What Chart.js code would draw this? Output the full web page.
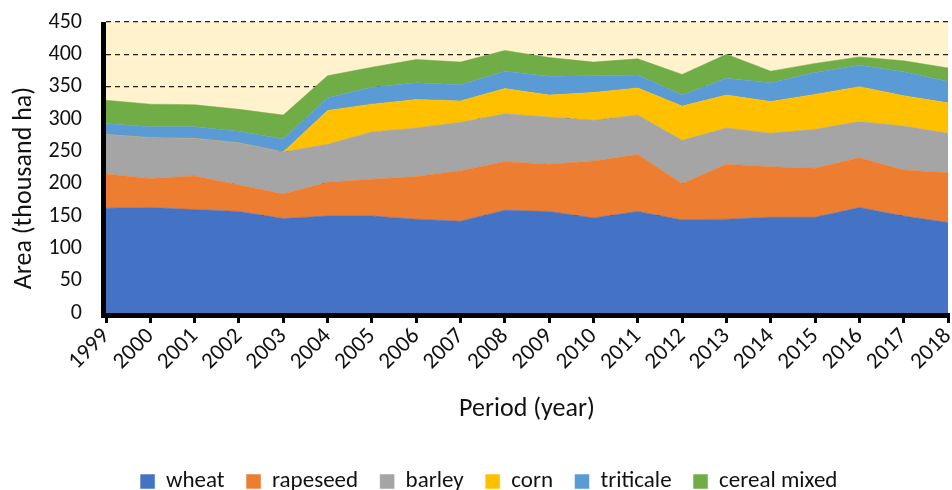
<!DOCTYPE html>
<html>
<head>
<meta charset="utf-8">
<script src="https://cdn.jsdelivr.net/npm/chart.js@4.4.0/dist/chart.umd.min.js"></script>
<style>
  html, body { margin: 0; padding: 0; background: #fff; }
  #caja { width: 952px; height: 490px; }
</style>
</head>
<body>
<div id="caja"><canvas id="canvas" width="952" height="490"></canvas></div>
<script>
// Datos (miles de ha), área apilada
var anios = ['1999','2000','2001','2002','2003','2004','2005','2006','2007','2008',
             '2009','2010','2011','2012','2013','2014','2015','2016','2017','2018'];
var wheat    = [162,163,160,157,146,150,150,145,142,159,157,147,157,144,145,148,148,163,150,140];
var rapeseed = [ 53, 45, 52, 41, 38, 52, 57, 66, 78, 75, 73, 88, 88, 56, 85, 78, 76, 77, 71, 77];
var barley   = [ 61, 63, 58, 65, 65, 59, 73, 75, 75, 74, 73, 63, 61, 67, 56, 52, 60, 56, 68, 61];
var corn     = [  0,  0,  0,  0,  0, 52, 43, 44, 33, 39, 34, 43, 42, 53, 51, 49, 54, 54, 47, 47];
var triticale= [ 17, 17, 18, 18, 20, 20, 26, 26, 25, 27, 29, 26, 20, 17, 26, 29, 34, 33, 37, 33];
var cereal   = [ 36, 35, 34, 34, 37, 34, 31, 36, 35, 32, 29, 21, 25, 32, 37, 18, 14, 13, 17, 21];
var yTicks   = [0,50,100,150,200,250,300,350,400,450];

var fuente = "Carlito, Calibri, Lato, sans-serif";

function serie(nombre, datos, color, relleno) {
  return {
    label: nombre,
    data: datos,
    backgroundColor: color,
    borderColor: color,
    borderWidth: 0.5,
    pointRadius: 0,
    tension: 0,
    fill: relleno
  };
}

// fondo crema del área de trazado y ejes negros gruesos encima de las áreas
var fondo = {
  id: 'fondo',
  beforeDraw: function(chart) {
    var a = chart.chartArea;
    var ctx = chart.ctx;
    ctx.save();
    ctx.fillStyle = '#FFF2CC';
    ctx.fillRect(a.left, a.top, a.right - a.left, a.bottom - a.top);
    ctx.restore();
  },
  afterDatasetsDraw: function(chart) {
    var a = chart.chartArea;
    var ctx = chart.ctx;
    ctx.save();
    ctx.strokeStyle = '#000';
    ctx.lineWidth = 5;
    ctx.setLineDash([]);
    ctx.beginPath();
    ctx.moveTo(a.left - 2.5, a.top);
    ctx.lineTo(a.left - 2.5, a.bottom + 5);
    ctx.moveTo(a.left - 5, a.bottom + 2.5);
    ctx.lineTo(a.right, a.bottom + 2.5);
    ctx.stroke();
    ctx.restore();
  }
};

var ctx = document.getElementById('canvas').getContext('2d');
new Chart(ctx, {
  type: 'line',
  data: {
    labels: anios,
    datasets: [
      serie('wheat', wheat, '#4472C4', 'origin'),
      serie('rapeseed', rapeseed, '#ED7D31', '-1'),
      serie('barley', barley, '#A5A5A5', '-1'),
      serie('corn', corn, '#FFC000', '-1'),
      serie('triticale', triticale, '#5B9BD5', '-1'),
      serie('cereal mixed', cereal, '#70AD47', '-1')
    ]
  },
  plugins: [fondo],
  options: {
    responsive: false,
    animation: false,
    // el padding izquierdo centra la leyenda como en el original
    layout: { padding: { top: 22, right: 4, left: 30, bottom: -13 } },
    plugins: {
      tooltip: { enabled: false },
      legend: {
        position: 'bottom',
        labels: {
          boxWidth: 14,
          boxHeight: 14,
          padding: 22,
          color: '#111',
          font: { family: fuente, size: 23 }
        }
      }
    },
    scales: {
      x: {
        offset: false,
        grid: {
          drawOnChartArea: false,
          drawTicks: true,
          tickLength: 10,
          tickColor: '#000',
          lineWidth: 3
        },
        border: { display: false },
        ticks: {
          minRotation: 45,
          maxRotation: 45,
          color: '#111',
          padding: 0,
          font: { family: fuente, size: 23 }
        },
        title: {
          display: true,
          text: 'Period (year)',
          color: '#111',
          font: { family: fuente, size: 26 },
          padding: { top: 10, bottom: 23 }
        },
        afterFit: function(s) {
          s.height = 135;
          s.paddingLeft = 0;
          s.paddingRight = 0;
        }
      },
      y: {
        stacked: true,
        min: 0,
        max: 450,
        afterBuildTicks: function(s) {
          s.ticks = yTicks.map(function(v) { return { value: v }; });
        },
        grid: {
          color: '#222',
          lineWidth: 1.3,
          drawTicks: false
        },
        // border.dash en v4 es el trazo de las líneas de la rejilla
        border: { display: false, dash: [5, 4] },
        ticks: {
          color: '#111',
          padding: 24,
          font: { family: fuente, size: 22 }
        },
        title: {
          display: true,
          // los espacios del final bajan un poco el título, como en el original
          text: 'Area (thousand ha)\u00a0\u00a0\u00a0\u00a0\u00a0\u00a0\u00a0',
          color: '#111',
          font: { family: fuente, size: 26 },
          padding: { top: -21, bottom: 0 }
        },
        afterFit: function(s) {
          s.width = 76;
          s.paddingTop = 0;
          s.paddingBottom = 0;
        }
      }
    }
  }
});
</script>
</body>
</html>
